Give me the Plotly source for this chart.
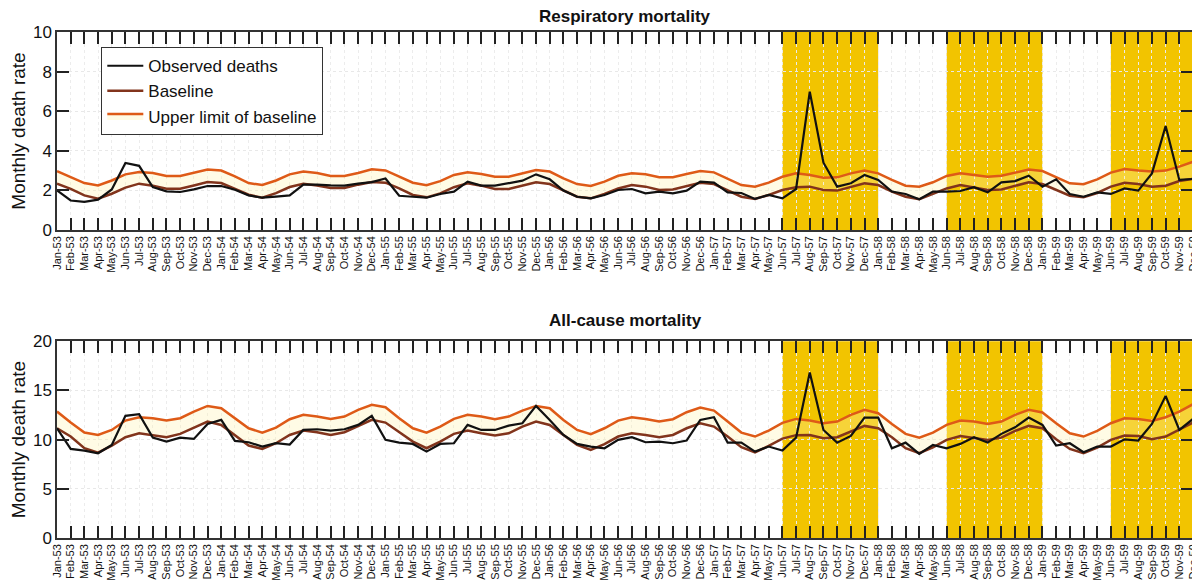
import plotly.graph_objects as go
from plotly.subplots import make_subplots

# month labels Jan-53 ... Dec-59
month_names = ["Jan", "Feb", "Mar", "Apr", "May", "Jun",
               "Jul", "Aug", "Sep", "Oct", "Nov", "Dec"]
years = ["53", "54", "55", "56", "57", "58", "59"]
months = [f"{m}-{y}" for y in years for m in month_names]

# pandemic periods shaded in gold
bands = [("Jun-57", "Jan-58"), ("Jun-58", "Jan-59"), ("Jun-59", "Dec-59")]

resp_observed = [
    2.00, 1.49, 1.42, 1.53, 2.05, 3.39, 3.24, 2.17, 1.95, 1.92, 2.05, 2.22,
    2.22, 2.03, 1.75, 1.63, 1.69, 1.75, 2.29, 2.29, 2.25, 2.24, 2.34, 2.42,
    2.60, 1.73, 1.68, 1.63, 1.82, 1.94, 2.44, 2.24, 2.24, 2.36, 2.49, 2.81,
    2.56, 1.99, 1.68, 1.60, 1.77, 2.02, 2.07, 1.85, 1.94, 1.85, 1.99, 2.44,
    2.39, 1.90, 1.87, 1.57, 1.77, 1.60, 2.07, 6.99, 3.40, 2.19, 2.36, 2.78,
    2.53, 1.94, 1.82, 1.55, 1.94, 1.94, 1.97, 2.16, 1.90, 2.41, 2.47, 2.74,
    2.19, 2.56, 1.82, 1.68, 1.90, 1.82, 2.10, 1.99, 2.86, 5.25, 2.53, 2.58,
]
resp_baseline = [
    2.34, 2.08, 1.75, 1.58, 1.83, 2.14, 2.34, 2.24, 2.08, 2.08, 2.25, 2.42,
    2.37, 2.08, 1.78, 1.63, 1.86, 2.17, 2.34, 2.25, 2.12, 2.12, 2.29, 2.42,
    2.39, 2.10, 1.77, 1.65, 1.85, 2.16, 2.36, 2.24, 2.07, 2.07, 2.24, 2.41,
    2.32, 1.99, 1.68, 1.60, 1.82, 2.10, 2.27, 2.19, 2.02, 2.05, 2.22, 2.39,
    2.32, 1.99, 1.68, 1.57, 1.77, 2.02, 2.16, 2.19, 2.02, 1.99, 2.19, 2.36,
    2.27, 1.94, 1.68, 1.55, 1.82, 2.10, 2.27, 2.16, 2.02, 2.05, 2.24, 2.41,
    2.32, 2.02, 1.73, 1.65, 1.87, 2.19, 2.39, 2.32, 2.19, 2.24, 2.47, 2.58,
]
resp_upper = [
    2.97, 2.68, 2.37, 2.25, 2.50, 2.81, 2.93, 2.88, 2.73, 2.73, 2.88, 3.05,
    3.00, 2.71, 2.37, 2.27, 2.50, 2.81, 2.95, 2.88, 2.73, 2.73, 2.88, 3.07,
    3.01, 2.69, 2.39, 2.26, 2.47, 2.78, 2.91, 2.83, 2.69, 2.69, 2.86, 3.03,
    2.95, 2.61, 2.32, 2.22, 2.44, 2.74, 2.86, 2.81, 2.66, 2.66, 2.83, 2.98,
    2.91, 2.58, 2.27, 2.19, 2.39, 2.69, 2.86, 2.78, 2.64, 2.66, 2.86, 3.00,
    2.86, 2.53, 2.24, 2.19, 2.41, 2.73, 2.86, 2.78, 2.69, 2.74, 2.91, 3.05,
    2.98, 2.69, 2.36, 2.31, 2.56, 2.90, 3.08, 3.00, 2.95, 3.00, 3.20, 3.45,
]

all_observed = [
    11.15, 9.05, 8.88, 8.61, 9.46, 12.41, 12.58, 10.20, 9.80, 10.20, 10.07, 11.59,
    12.00, 9.86, 9.73, 9.29, 9.63, 9.49, 10.98, 11.05, 10.92, 11.05, 11.49, 12.41,
    9.97, 9.69, 9.56, 8.78, 9.56, 9.63, 11.49, 10.98, 10.98, 11.42, 11.66, 13.42,
    12.00, 10.47, 9.56, 9.29, 9.12, 9.97, 10.24, 9.73, 9.80, 9.63, 9.90, 12.00,
    12.27, 9.69, 9.69, 8.78, 9.29, 8.88, 10.20, 16.81, 10.98, 9.69, 10.37, 12.24,
    12.24, 9.12, 9.69, 8.54, 9.46, 9.12, 9.56, 10.24, 9.69, 10.58, 11.25, 12.24,
    11.49, 9.39, 9.63, 8.71, 9.29, 9.29, 10.03, 9.90, 11.59, 14.44, 10.98, 12.10,
]
all_baseline = [
    11.15, 10.31, 9.12, 8.68, 9.39, 10.24, 10.64, 10.47, 10.24, 10.58, 11.22, 11.83,
    11.49, 10.47, 9.39, 9.05, 9.63, 10.47, 10.92, 10.75, 10.47, 10.75, 11.39, 12.00,
    11.73, 10.81, 9.80, 9.12, 9.80, 10.58, 10.92, 10.64, 10.41, 10.64, 11.32, 11.83,
    11.49, 10.47, 9.46, 8.95, 9.53, 10.31, 10.64, 10.47, 10.24, 10.47, 11.15, 11.66,
    11.32, 10.31, 9.22, 8.71, 9.36, 10.10, 10.45, 10.47, 10.14, 10.24, 10.81, 11.39,
    11.15, 10.24, 9.12, 8.61, 9.22, 9.97, 10.37, 10.20, 9.97, 10.20, 10.88, 11.39,
    11.15, 10.03, 9.05, 8.61, 9.19, 9.97, 10.41, 10.37, 10.03, 10.31, 10.98, 11.73,
]
all_upper = [
    12.85, 11.73, 10.71, 10.47, 10.98, 11.93, 12.27, 12.17, 11.93, 12.17, 12.85, 13.42,
    13.19, 12.17, 11.15, 10.71, 11.22, 12.07, 12.51, 12.34, 12.10, 12.34, 13.02, 13.53,
    13.29, 12.17, 11.15, 10.71, 11.32, 12.10, 12.51, 12.34, 12.07, 12.34, 12.95, 13.42,
    13.19, 12.00, 10.98, 10.54, 11.15, 11.93, 12.27, 12.10, 11.83, 12.07, 12.78, 13.25,
    12.95, 11.83, 10.71, 10.31, 10.92, 11.70, 12.10, 11.93, 11.66, 11.83, 12.51, 13.02,
    12.68, 11.59, 10.58, 10.20, 10.71, 11.49, 11.93, 11.83, 11.59, 11.83, 12.51, 13.02,
    12.75, 11.66, 10.64, 10.31, 10.88, 11.66, 12.17, 12.10, 11.90, 12.27, 12.85, 13.59,
]

FONT = "Liberation Sans, Arial, sans-serif"
BAND = "#F2C400"
OBS_COLOR = "#111111"
BASE_COLOR = "#82341C"
UPPER_COLOR = "#DE5A17"
FILL = "rgba(255, 244, 175, 0.32)"

fig = make_subplots(rows=2, cols=1)

panels = [
    (1, resp_observed, resp_baseline, resp_upper, True),
    (2, all_observed, all_baseline, all_upper, False),
]
for row, obs, base, upper, show in panels:
    fig.add_trace(go.Scatter(
        x=months, y=base, mode="lines", name="Baseline",
        line=dict(color=BASE_COLOR, width=2.5),
        showlegend=show, legendrank=2,
    ), row=row, col=1)
    fig.add_trace(go.Scatter(
        x=months, y=upper, mode="lines", name="Upper limit of baseline",
        line=dict(color=UPPER_COLOR, width=2.5),
        fill="tonexty", fillcolor=FILL,
        showlegend=show, legendrank=3,
    ), row=row, col=1)
    fig.add_trace(go.Scatter(
        x=months, y=obs, mode="lines", name="Observed deaths",
        line=dict(color=OBS_COLOR, width=2.2),
        showlegend=show, legendrank=1,
    ), row=row, col=1)

for xref, yref in [("x", "y domain"), ("x2", "y2 domain")]:
    for start, end in bands:
        fig.add_shape(type="rect", xref=xref, yref=yref,
                      x0=start, x1=end, y0=0, y1=1,
                      fillcolor=BAND, line=dict(width=0), layer="below")

xaxis_style = dict(
    type="category", tickmode="array", tickvals=months, ticktext=months,
    range=[0, len(months) - 1], tickangle=-90,
    tickfont=dict(family=FONT, size=11, color="#111111"),
    ticks="inside", ticklen=12, tickwidth=1.5, tickcolor="#222222",
    showline=True, linecolor="#333333", linewidth=1.5, mirror="ticks",
    showgrid=True, gridcolor="#ececec", griddash="dot", gridwidth=1,
    automargin=False,
)
yaxis_style = dict(
    tickfont=dict(family=FONT, size=17, color="#111111"),
    ticks="inside", ticklen=12, tickwidth=1.5, tickcolor="#222222",
    showline=True, linecolor="#333333", linewidth=1.5, mirror="ticks",
    showgrid=True, gridcolor="#e8e8e8", griddash="dot", gridwidth=1,
    zeroline=False, automargin=False,
    title=dict(text="Monthly death rate", standoff=4,
               font=dict(family=FONT, size=19, color="#111111")),
)

# page body has an 8px margin, so the figure is sized to fit inside it
fig.update_layout(
    width=1192, height=574,
    margin=dict(l=49, r=7, t=24, b=44),
    paper_bgcolor="white", plot_bgcolor="white",
    font=dict(family=FONT, color="#111111"),
    xaxis=dict(xaxis_style, domain=[0, 1], anchor="y"),
    xaxis2=dict(xaxis_style, domain=[0, 1], anchor="y2"),
    yaxis=dict(yaxis_style, domain=[0.6087, 1.0], range=[0, 10], dtick=2, anchor="x"),
    yaxis2=dict(yaxis_style, domain=[0.0, 0.389], range=[0, 20], dtick=5, anchor="x2"),
    legend=dict(
        x=0.039, y=0.97, xanchor="left", yanchor="top",
        bgcolor="white", bordercolor="#333333", borderwidth=1,
        font=dict(family=FONT, size=17, color="#111111"),
        traceorder="normal", tracegroupgap=0, itemwidth=36,
    ),
    annotations=[
        dict(text="<b>Respiratory mortality</b>", xref="paper", yref="paper",
             x=0.5, y=1.03, xanchor="center", yanchor="middle", showarrow=False,
             font=dict(family=FONT, size=17, color="#111111")),
        dict(text="<b>All-cause mortality</b>", xref="paper", yref="paper",
             x=0.5, y=0.429, xanchor="center", yanchor="middle", showarrow=False,
             font=dict(family=FONT, size=17, color="#111111")),
    ],
)

fig.write_html("out.html")
